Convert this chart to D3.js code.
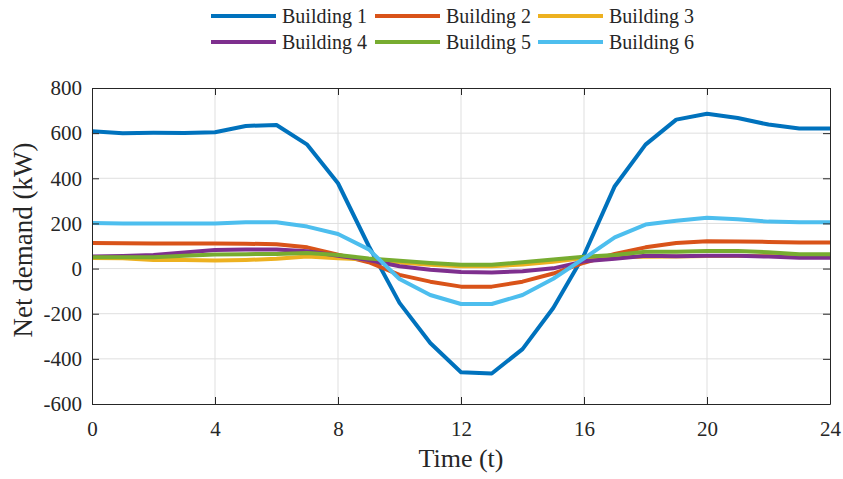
<!DOCTYPE html>
<html>
<head>
<meta charset="utf-8">
<script src="https://cdn.jsdelivr.net/npm/d3@7"></script>
<style>
  html, body { margin: 0; padding: 0; background: #ffffff; }
  svg { display: block; }
  text { font-family: "Liberation Serif", "Times New Roman", serif; fill: #262626; }
</style>
</head>
<body>
<svg id="chart" width="843" height="479"></svg>
<script>
const hours = [0,1,2,3,4,5,6,7,8,9,10,11,12,13,14,15,16,17,18,19,20,21,22,23,24];
const building1 = [608, 600, 602, 601, 604, 632, 636, 549, 378, 100, -152, -330, -459, -465, -357, -175, 60, 365, 549, 660, 686, 667, 638, 621, 621];
const building2 = [113, 112, 111, 111, 111, 110, 108, 94, 62, 28, -28, -58, -80, -80, -58, -22, 26, 65, 94, 113, 121, 120, 118, 116, 116];
const building3 = [47, 46, 38, 38, 36, 38, 43, 53, 46, 40, 27, 17, 10, 10, 18, 30, 47, 50, 52, 54, 56, 56, 56, 55, 55];
const building4 = [54, 56, 60, 71, 82, 85, 85, 77, 57, 38, 10, -5, -15, -17, -12, 1, 32, 43, 57, 55, 57, 57, 53, 48, 48];
const building5 = [50, 50, 50, 57, 62, 64, 65, 69, 60, 45, 35, 25, 17, 17, 28, 40, 52, 60, 75, 75, 78, 78, 72, 63, 63];
const building6 = [202, 200, 200, 200, 200, 205, 205, 186, 153, 85, -46, -117, -157, -157, -117, -45, 45, 138, 195, 212, 225, 218, 208, 205, 205];

const seriesNames = ["Building 1", "Building 2", "Building 3", "Building 4", "Building 5", "Building 6"];
const seriesValues = [building1, building2, building3, building4, building5, building6];
const seriesColors = ["#0072BD", "#D95319", "#EDB120", "#7E2F8E", "#77AC30", "#4DBEEE"];

const xTicks = [0, 4, 8, 12, 16, 20, 24];
const yTicks = [-600, -400, -200, 0, 200, 400, 600, 800];

const svg = d3.select("#chart");
const mLeft = 92, mRight = 830, mTop = 88, mBottom = 404;

const x = d3.scaleLinear().domain([0, 24]).range([mLeft, mRight]);
const y = d3.scaleLinear().domain([-600, 800]).range([mBottom, mTop]);

const axisColor = "#262626";
const gridColor = "#dfdfdf";

// grid
const grid = svg.append("g");
grid.selectAll(".gx").data(xTicks.slice(1, -1)).join("line")
  .attr("x1", d => x(d)).attr("x2", d => x(d))
  .attr("y1", mTop).attr("y2", mBottom)
  .attr("stroke", gridColor).attr("stroke-width", 1);
grid.selectAll(".gy").data(yTicks.slice(1, -1)).join("line")
  .attr("x1", mLeft).attr("x2", mRight)
  .attr("y1", d => y(d)).attr("y2", d => y(d))
  .attr("stroke", gridColor).attr("stroke-width", 1);

// lines
const line = d3.line().x((d, i) => x(hours[i])).y(d => y(d));
const plot = svg.append("g");
seriesValues.forEach((vals, k) => {
  plot.append("path")
    .datum(vals)
    .attr("d", line)
    .attr("fill", "none")
    .attr("stroke", seriesColors[k])
    .attr("stroke-width", 4)
    .attr("stroke-linejoin", "round")
    .attr("stroke-linecap", "butt");
});

// axes (box with inward ticks)
const tickLen = 7;
const fmt = d => String(d);
function styleAxis(g) {
  g.select(".domain").attr("stroke", axisColor).attr("stroke-width", 1);
  g.selectAll(".tick line").attr("stroke", axisColor).attr("stroke-width", 1);
}
const xAxis = svg.append("g").attr("transform", `translate(0,${mBottom})`)
  .call(d3.axisBottom(x).tickValues(xTicks).tickFormat(fmt).tickSizeInner(-tickLen).tickSizeOuter(0).tickPadding(17));
styleAxis(xAxis);
xAxis.selectAll("text").attr("font-size", 21).attr("fill", axisColor)
  .style("font-family", "'Liberation Serif', serif");

const xAxisTop = svg.append("g").attr("transform", `translate(0,${mTop})`)
  .call(d3.axisTop(x).tickValues(xTicks).tickSizeInner(-tickLen).tickSizeOuter(0).tickFormat(""));
styleAxis(xAxisTop);

const yAxis = svg.append("g").attr("transform", `translate(${mLeft},0)`)
  .call(d3.axisLeft(y).tickValues(yTicks).tickFormat(fmt).tickSizeInner(-tickLen).tickSizeOuter(0).tickPadding(10));
styleAxis(yAxis);
yAxis.selectAll("text").attr("font-size", 21).attr("fill", axisColor)
  .style("font-family", "'Liberation Serif', serif");

const yAxisRight = svg.append("g").attr("transform", `translate(${mRight},0)`)
  .call(d3.axisRight(y).tickValues(yTicks).tickSizeInner(-tickLen).tickSizeOuter(0).tickFormat(""));
styleAxis(yAxisRight);

// axis labels
svg.append("text")
  .attr("x", (mLeft + mRight) / 2).attr("y", 467)
  .attr("text-anchor", "middle")
  .attr("font-size", 26)
  .text("Time (t)");

svg.append("text")
  .attr("transform", `translate(32,240) rotate(-90)`)
  .attr("text-anchor", "middle")
  .attr("font-size", 27)
  .text("Net demand (kW)");

// legend
const legend = svg.append("g");
const colX = [211, 375, 538];
const rowY = [16, 42];
seriesNames.forEach((name, k) => {
  const cx = colX[k % 3], cy = rowY[Math.floor(k / 3)];
  legend.append("line")
    .attr("x1", cx).attr("x2", cx + 65)
    .attr("y1", cy).attr("y2", cy)
    .attr("stroke", seriesColors[k]).attr("stroke-width", 4);
  legend.append("text")
    .attr("x", cx + 71).attr("y", cy)
    .attr("dy", "0.35em")
    .attr("font-size", 20)
    .text(name);
});
</script>
</body>
</html>
